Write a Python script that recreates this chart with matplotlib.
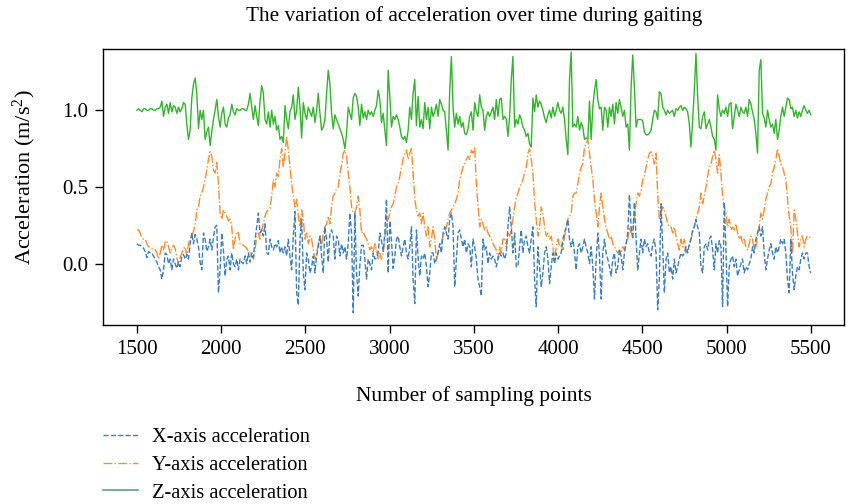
import numpy as np
import matplotlib as mpl
import matplotlib.pyplot as plt
from matplotlib.lines import Line2D

# acceleration, one value about every 10 sampling points (1500 -> 5500)
x_acc = [
    0.13, 0.12, 0.12, 0.11, 0.10, 0.08, 0.04, 0.08, 0.07, 0.07,
    0.05, 0.03, 0.01, -0.02, -0.04, -0.10, -0.04, 0.07, 0.06, 0.00,
    0.03, -0.04, 0.03, 0.00, -0.03, 0.01, -0.02, 0.05, 0.06, 0.03,
    0.06, 0.03, 0.13, 0.20, 0.13, 0.19, 0.16, 0.11, 0.01, -0.04,
    0.20, 0.16, 0.08, 0.11, 0.16, 0.09, 0.17, 0.24, 0.25, -0.19,
    -0.04, 0.20, 0.09, -0.08, 0.03, 0.05, -0.04, 0.07, 0.00, -0.02,
    0.03, -0.04,
    0.03, 0.01, 0.00, 0.05, 0.00, 0.07, 0.01, 0.07, 0.04, 0.16,
    0.24, 0.33, 0.20, 0.22, 0.18, 0.26, 0.07, 0.06, 0.16, 0.11,
    0.09, 0.13, 0.11, 0.15, 0.07, 0.11, 0.07, 0.11, 0.05, 0.16,
    0.05, -0.04, 0.18, 0.34, -0.19, -0.27, 0.16, 0.29, -0.06, -0.17,
    0.07, 0.03, -0.06, -0.02, 0.05, -0.06, 0.05, 0.11, 0.18, 0.05,
    -0.06, 0.24, 0.16, 0.01, 0.20, 0.22, 0.18, 0.03, 0.18, 0.16,
    0.05, 0.13, 0.07, 0.11, 0.03, 0.13, 0.33, 0.20, -0.32,
    0.33, -0.06, -0.21, -0.01, 0.12, 0.12, 0.03, -0.10, 0.03, 0.00,
    -0.04, 0.07, 0.03, 0.04, 0.07, 0.20, 0.15, 0.08, 0.20, 0.42,
    -0.06, 0.28, 0.15, -0.03, 0.05, 0.16, 0.18, 0.11, 0.05, 0.11,
    0.16, 0.07, 0.03, 0.11, 0.24, -0.10, -0.26, 0.22, 0.04, -0.08,
    0.05, 0.03, 0.07, -0.02, -0.15, -0.06, 0.07, 0.07, 0.00, 0.03,
    0.07, 0.13, 0.07, 0.20, 0.24, 0.20, 0.16, 0.29, 0.33, 0.24,
    -0.15, 0.03, 0.20, 0.22, 0.16, 0.11, 0.16, 0.07, 0.13,
    0.11, -0.02, 0.16, 0.11, 0.03, -0.10, -0.15, -0.21, 0.16, 0.09,
    0.11, 0.00, 0.07, 0.03, 0.05, 0.03, -0.02, 0.03, 0.07, 0.05,
    0.07, 0.03, 0.07, 0.24, 0.37, 0.24, 0.07, 0.20, -0.02, -0.02,
    0.11, 0.22, 0.07, 0.16, 0.18, 0.11, 0.07, 0.16, 0.24, -0.10,
    -0.28, 0.11, -0.02, -0.15, -0.06, 0.07, 0.11, 0.03, -0.13, -0.02,
    0.07, 0.00, 0.07, 0.03, 0.05, 0.07, 0.16, 0.20, 0.24, 0.29,
    0.16, 0.11, 0.16, 0.07, -0.04, 0.11, 0.13, 0.07, 0.11,
    0.16, 0.11, 0.07, 0.00, 0.11, -0.02, -0.23, 0.03, 0.20, 0.05,
    -0.23, 0.07, 0.16, 0.07, 0.03, -0.02, -0.08, 0.03, 0.07, -0.06,
    -0.02, 0.09, 0.05, -0.04, 0.07, 0.13, 0.20, 0.45, 0.24, 0.16,
    0.40, 0.16, -0.04, 0.07, 0.16, 0.07, 0.16, 0.11, 0.13, 0.07,
    0.05, 0.13, 0.16, 0.07, -0.30, -0.10, 0.39, 0.11, -0.19, 0.03,
    0.07, -0.06, -0.02, -0.10, 0.03, -0.06, -0.02, 0.03, 0.07, 0.05,
    0.07, 0.11, 0.07, 0.13, 0.16, 0.22, 0.24, 0.29, 0.24,
    0.20, -0.02, -0.06, 0.11, 0.13, 0.09, 0.16, 0.18, 0.09, -0.04,
    0.13, 0.07, 0.15, 0.11, -0.28, 0.40, 0.10, -0.28, -0.02, 0.03,
    0.05, -0.02, 0.03, -0.08, -0.04, 0.00, 0.03, -0.06, -0.02, -0.04,
    0.00, 0.03, 0.11, 0.07, 0.16, 0.20, 0.24, 0.18, 0.24, 0.07,
    -0.04, 0.03, 0.09, 0.13, 0.07, 0.03, 0.11, 0.07, 0.11, 0.16,
    0.13, 0.16, 0.07, -0.10, -0.19, 0.16, -0.06, -0.17, -0.08, -0.02,
    -0.04, 0.03, 0.07, 0.03, 0.07, 0.07, -0.02, -0.06,
]

y_acc = [
    0.22, 0.22, 0.20, 0.17, 0.16, 0.16, 0.13, 0.11, 0.11, 0.10,
    0.10, 0.09, 0.07, 0.03, 0.07, 0.12, 0.09, 0.14, 0.15, 0.11,
    0.07, 0.10, 0.12, 0.10, 0.04, -0.01, 0.04, 0.07, 0.10, 0.11,
    0.05, 0.13, 0.16, 0.18, 0.21, 0.26, 0.35, 0.37, 0.44, 0.46,
    0.50, 0.55, 0.61, 0.68, 0.73, 0.70, 0.61, 0.59, 0.66, 0.52,
    0.33, 0.29, 0.35, 0.33, 0.31, 0.28, 0.29, 0.24, 0.09, 0.16,
    0.21, 0.20,
    0.13, 0.13, 0.12, 0.11, 0.10, 0.08, 0.07, 0.05, 0.03, 0.09,
    0.18, 0.20, 0.16, 0.22, 0.26, 0.31, 0.34, 0.35, 0.36, 0.44,
    0.55, 0.50, 0.59, 0.57, 0.68, 0.75, 0.63, 0.72, 0.83, 0.74,
    0.63, 0.52, 0.44, 0.37, 0.42, 0.31, 0.24, 0.35, 0.29, 0.16,
    0.20, 0.13, 0.18, 0.16, 0.09, 0.03, 0.07, 0.13, 0.18, 0.11,
    0.20, 0.24, 0.26, 0.31, 0.26, 0.37, 0.44, 0.46, 0.49, 0.50,
    0.59, 0.64, 0.72, 0.74, 0.70, 0.59, 0.50, 0.37, 0.33,
    0.33, 0.37, 0.44, 0.35, 0.20, 0.21, 0.18, 0.16, 0.13, 0.09,
    0.11, 0.07, 0.13, 0.09, 0.03, 0.07, 0.03, 0.07, 0.16, 0.26,
    0.29, 0.33, 0.37, 0.39, 0.44, 0.50, 0.52, 0.57, 0.63, 0.68,
    0.72, 0.74, 0.68, 0.72, 0.75, 0.59, 0.42, 0.35, 0.31, 0.33,
    0.26, 0.33, 0.24, 0.18, 0.24, 0.11, 0.16, 0.24, 0.16, 0.03,
    0.07, 0.11, 0.13, 0.18, 0.20, 0.24, 0.29, 0.33, 0.35, 0.37,
    0.39, 0.42, 0.46, 0.55, 0.59, 0.63, 0.65, 0.68, 0.70,
    0.68, 0.74, 0.72, 0.76, 0.52, 0.38, 0.24, 0.29, 0.26, 0.22,
    0.24, 0.20, 0.18, 0.16, 0.13, 0.11, 0.09, 0.03, 0.11, 0.07,
    0.16, 0.16, 0.11, 0.20, 0.18, 0.22, 0.29, 0.37, 0.43, 0.46,
    0.50, 0.52, 0.55, 0.59, 0.63, 0.72, 0.75, 0.68, 0.59, 0.40,
    0.29, 0.18, 0.24, 0.37, 0.33, 0.24, 0.18, 0.20, 0.16, 0.18,
    0.11, 0.03, 0.11, 0.16, 0.11, 0.13, 0.09, 0.18, 0.22, 0.29,
    0.31, 0.33, 0.44, 0.46, 0.46, 0.52, 0.59, 0.63, 0.65,
    0.76, 0.78, 0.81, 0.72, 0.63, 0.55, 0.42, 0.33, 0.24, 0.37,
    0.46, 0.37, 0.29, 0.24, 0.20, 0.16, 0.18, 0.13, 0.11, 0.09,
    0.07, 0.09, 0.07, 0.11, 0.09, 0.13, 0.16, 0.24, 0.20, 0.24,
    0.31, 0.39, 0.46, 0.44, 0.48, 0.55, 0.57, 0.63, 0.68, 0.72,
    0.73, 0.70, 0.65, 0.72, 0.45, 0.29, 0.33, 0.37, 0.35, 0.31,
    0.26, 0.24, 0.24, 0.20, 0.24, 0.18, 0.13, 0.09, 0.16, 0.11,
    0.16, 0.07, 0.09, 0.11, 0.16, 0.20, 0.24, 0.29, 0.33,
    0.37, 0.46, 0.39, 0.44, 0.50, 0.57, 0.63, 0.65, 0.70, 0.74,
    0.68, 0.59, 0.71, 0.59, 0.44, 0.37, 0.33, 0.24, 0.29, 0.22,
    0.24, 0.22, 0.26, 0.20, 0.16, 0.18, 0.13, 0.16, 0.11, 0.09,
    0.13, 0.18, 0.16, 0.09, 0.11, 0.18, 0.24, 0.33, 0.29, 0.35,
    0.42, 0.46, 0.50, 0.52, 0.59, 0.63, 0.68, 0.75, 0.70, 0.65,
    0.63, 0.59, 0.55, 0.42, 0.31, 0.24, 0.07, 0.35, 0.29, 0.20,
    0.11, 0.16, 0.18, 0.11, 0.16, 0.18, 0.18, 0.16,
]

z_acc = [
    1.00, 1.01, 1.00, 0.99, 1.01, 1.01, 1.00, 1.00, 1.01, 1.01,
    1.00, 1.00, 1.01, 1.01, 1.02, 1.06, 0.96, 1.02, 1.04, 0.98,
    1.05, 0.99, 1.03, 1.02, 0.98, 1.02, 0.99, 1.01, 1.05, 1.04,
    0.91, 0.81, 0.87, 1.08, 1.17, 1.21, 1.11, 0.88, 1.00, 0.94,
    1.00, 0.81, 0.86, 0.89, 0.77, 0.86, 0.94, 1.00, 1.07, 0.96,
    0.89, 0.98, 1.02, 0.91, 0.89, 0.95, 0.97, 1.04, 0.99, 0.97,
    1.01, 1.00,
    1.00, 1.01, 1.01, 1.00, 1.00, 1.04, 1.11, 1.02, 0.94, 1.03,
    0.96, 0.90, 1.06, 1.16, 1.11, 0.94, 0.91, 0.99, 0.89, 1.00,
    0.91, 0.96, 0.87, 0.90, 0.81, 0.83, 0.79, 1.03, 0.94, 0.88,
    0.99, 1.02, 1.10, 0.94, 1.00, 1.15, 1.02, 0.82, 1.05, 0.98,
    0.94, 1.02, 0.99, 0.96, 1.02, 0.92, 1.00, 1.11, 0.98, 0.87,
    0.89, 0.94, 1.11, 1.26, 1.17, 0.98, 0.88, 0.97, 0.94, 0.91,
    0.88, 0.85, 0.81, 0.75, 0.85, 1.02, 0.98, 0.94, 1.08,
    1.11, 1.09, 1.02, 0.90, 1.04, 0.95, 0.99, 0.94, 1.00, 0.97,
    0.99, 0.96, 1.00, 1.03, 1.13, 1.07, 0.92, 0.98, 0.87, 0.77,
    1.26, 1.09, 0.89, 0.96, 0.94, 0.97, 0.94, 0.89, 0.83, 0.81,
    0.83, 0.79, 0.87, 1.02, 0.94, 1.11, 1.20, 0.90, 1.09, 0.89,
    0.94, 0.88, 1.05, 0.94, 1.02, 0.88, 1.02, 0.96, 0.99, 1.04,
    0.96, 1.07, 1.04, 1.00, 0.99, 0.87, 0.74, 1.13, 1.35, 1.02,
    0.89, 0.98, 0.91, 0.96, 0.89, 0.92, 0.85, 0.84, 0.88,
    0.96, 0.99, 0.87, 1.05, 0.99, 0.96, 1.10, 1.02, 1.00, 0.87,
    0.96, 0.99, 0.96, 0.99, 1.02, 0.94, 1.07, 0.96, 1.07, 1.08,
    0.94, 0.96, 0.94, 0.83, 0.96, 1.20, 1.35, 0.89, 0.94, 0.91,
    0.97, 0.94, 0.89, 0.87, 0.83, 0.85, 0.78, 0.76, 1.08, 0.99,
    1.10, 1.02, 1.06, 1.04, 1.00, 0.95, 0.92, 0.97, 1.00, 0.95,
    1.02, 0.96, 1.00, 1.05, 1.00, 0.98, 1.02, 0.94, 0.81, 0.71,
    1.20, 1.38, 0.89, 0.91, 0.89, 0.96, 0.87, 0.92, 0.89,
    0.81, 0.82, 0.81, 1.06, 0.81, 1.02, 1.13, 1.20, 1.07, 1.01,
    1.02, 0.87, 1.02, 1.00, 0.89, 1.02, 0.96, 1.04, 0.91, 1.05,
    0.98, 1.07, 1.02, 0.96, 1.00, 0.89, 0.91, 0.74, 1.15, 1.36,
    1.15, 0.89, 0.94, 0.94, 0.94, 0.93, 0.86, 0.84, 0.84, 0.85,
    0.87, 0.94, 1.00, 0.99, 0.94, 1.12, 1.11, 1.02, 1.00, 0.97,
    1.00, 0.98, 0.99, 1.00, 0.96, 1.01, 1.00, 1.02, 1.03, 1.00,
    1.02, 1.01, 0.99, 0.91, 0.76, 0.93, 1.13, 1.37, 1.09,
    0.89, 0.88, 0.96, 0.99, 0.88, 0.91, 0.94, 0.89, 0.83, 0.81,
    0.74, 1.10, 1.01, 0.96, 1.00, 0.98, 1.02, 0.96, 1.04, 1.05,
    0.88, 0.96, 1.04, 1.00, 0.96, 1.02, 0.99, 0.98, 1.02, 0.96,
    1.07, 1.04, 0.99, 0.94, 0.85, 0.72, 1.26, 1.33, 0.98, 0.95,
    0.89, 1.00, 0.94, 0.89, 0.91, 0.85, 0.94, 0.81, 0.87, 0.96,
    1.02, 0.96, 1.02, 1.08, 1.07, 1.01, 1.02, 0.96, 1.00, 0.95,
    0.99, 0.96, 1.00, 1.03, 1.00, 0.98, 1.00, 0.97,
]

labels = ['X-axis acceleration', 'Y-axis acceleration', 'Z-axis acceleration']
start, stop = 1500, 5500

# configuration
mpl.rcParams['font.family'] = 'Liberation Serif'
mpl.rcParams['mathtext.fontset'] = 'custom'
mpl.rcParams['mathtext.rm'] = 'Liberation Serif'
mpl.rcParams['mathtext.it'] = 'Liberation Serif:italic'
mpl.rcParams['font.size'] = 15

fig = plt.figure(figsize=(8.53, 5.04), dpi=100)
ax = fig.add_axes([0.121, 0.355, 0.869, 0.548])

ax.plot(np.linspace(start, stop, len(z_acc)), z_acc, color='#33b52b', lw=1.0)
ax.plot(np.linspace(start, stop, len(y_acc)), y_acc, color='#ff8c2a', lw=1.0, ls='-.')
ax.plot(np.linspace(start, stop, len(x_acc)), x_acc, color='#3a7fc0', lw=1.0, ls='--')

ax.set_xlim(1300, 5700)
ax.set_ylim(-0.4, 1.4)
ax.set_xticks(range(1500, 5501, 500))
ax.set_yticks([0.0, 0.5, 1.0])
ax.tick_params(length=5.5, width=1, pad=5, labelsize=15)
for s in ax.spines.values():
    s.set_linewidth(1)

ax.set_title('The variation of acceleration over time during gaiting', fontsize=15.3, pad=20)
ax.set_xlabel('Number of sampling points', fontsize=15.5, labelpad=20)
ax.set_ylabel(r'Acceleration (m/s$^{2}$)', fontsize=16)
ax.yaxis.set_label_coords(-0.088, 0.536)

# legend
handles = [
    Line2D([], [], color='#3a7fc0', lw=1, ls='--'),
    Line2D([], [], color='#ff8c2a', lw=1, ls='-.'),
    Line2D([], [], color='#5a9e86', lw=1.2),
]
fig.legend(handles, labels, loc='upper left', bbox_to_anchor=(0.111, 0.168),
           frameon=False, borderaxespad=0, handlelength=1.7, handletextpad=0.7,
           labelspacing=0.42, fontsize=14.7)

fig.savefig('out.png', dpi=100)
